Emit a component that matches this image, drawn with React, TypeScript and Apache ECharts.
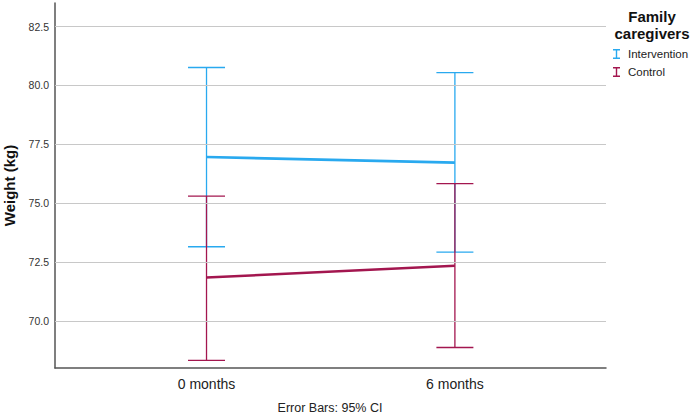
import React, { useEffect, useRef } from "react";
import * as echarts from "echarts";

const timeMonths = [0, 6];
const timeLabels = ["0 months", "6 months"];
const yTicks = [70, 72.5, 75, 77.5, 80, 82.5];

const interventionMean = [76.96, 76.72];
const interventionLower = [73.15, 72.92];
const interventionUpper = [80.76, 80.54];

const controlMean = [71.84, 72.34];
const controlLower = [68.32, 68.87];
const controlUpper = [75.3, 75.83];

const BLUE = "#29A9EF";
const MAROON = "#A3164F";
const FONT = "'Liberation Sans', Arial, sans-serif";
const I_ICON = "path://M0,0h7v1.4h-2.8v7.2h2.8v1.4h-7v-1.4h2.8v-7.2h-2.8z";

function errorSeries(name: string, lower: number[], upper: number[], color: string, z: number) {
  return {
    type: "custom",
    name,
    silent: true,
    z,
    data: timeMonths.map((m, i) => [m, lower[i], upper[i]]),
    encode: { x: 0, y: [1, 2] },
    renderItem: (params: any, api: any) => {
      const x = api.value(0);
      const lo = api.coord([x, api.value(1)]);
      const hi = api.coord([x, api.value(2)]);
      const hw = 18.5;
      const style = { stroke: color, lineWidth: 1.3, fill: null };
      return {
        type: "group",
        children: [
          { type: "line", shape: { x1: lo[0], y1: lo[1], x2: hi[0], y2: hi[1] }, style },
          { type: "line", shape: { x1: lo[0] - hw, y1: lo[1], x2: lo[0] + hw, y2: lo[1] }, style },
          { type: "line", shape: { x1: hi[0] - hw, y1: hi[1], x2: hi[0] + hw, y2: hi[1] }, style },
        ],
      };
    },
  };
}

export default function App() {
  const ref = useRef<HTMLDivElement>(null);
  useEffect(() => {
    if (!ref.current) return;
    const chart = echarts.init(ref.current, undefined, { renderer: "svg" });
    chart.setOption({
      animation: false,
      backgroundColor: "#ffffff",
      textStyle: { fontFamily: FONT },
      grid: { left: 55, right: 86, top: 3, bottom: 47, containLabel: false, outerBoundsMode: "none" },
      xAxis: {
        type: "value",
        min: -3.66,
        max: 9.65,
        axisLine: { show: true, onZero: false, lineStyle: { color: "#555555", width: 1.5 } },
        axisTick: { show: false },
        splitLine: { show: false },
        axisLabel: {
          customValues: timeMonths,
          margin: 9,
          fontSize: 14,
          color: "#222222",
          fontFamily: FONT,
          formatter: (v: number) => {
            const i = timeMonths.indexOf(v);
            return i >= 0 ? timeLabels[i] : "";
          },
        },
      },
      yAxis: {
        type: "value",
        min: 68,
        max: 83.5,
        name: "Weight (kg)",
        nameLocation: "middle",
        nameGap: 38,
        nameTextStyle: { fontSize: 15, fontWeight: "bold", color: "#111111", fontFamily: FONT },
        axisLine: { show: true, onZero: false, lineStyle: { color: "#555555", width: 1.5 } },
        axisTick: { show: false },
        splitLine: { show: false },
        axisLabel: {
          customValues: yTicks,
          margin: 6,
          fontSize: 10.5,
          color: "#333333",
          fontFamily: FONT,
          formatter: (v: number) => v.toFixed(1),
        },
      },
      legend: {
        orient: "vertical",
        left: 613,
        top: 48,
        padding: 0,
        itemWidth: 7,
        itemHeight: 10,
        itemGap: 6,
        textStyle: { fontSize: 11.5, color: "#222222", fontFamily: FONT, padding: [0, 0, 0, 3] },
        data: [
          { name: "Intervention", icon: I_ICON },
          { name: "Control", icon: I_ICON },
        ],
      },
      graphic: [
        {
          type: "text",
          x: 652,
          y: 8,
          style: {
            text: "Family\ncaregivers",
            fontSize: 15,
            fontWeight: "bold",
            fontFamily: FONT,
            fill: "#111111",
            align: "center",
            lineHeight: 17,
          },
        },
        {
          type: "text",
          x: 330,
          y: 408,
          style: {
            text: "Error Bars: 95% CI",
            fontSize: 12.5,
            fontFamily: FONT,
            fill: "#222222",
            align: "center",
            verticalAlign: "middle",
          },
        },
      ],
      series: [
        {
          type: "line",
          name: "gridlines",
          data: [],
          silent: true,
          z: 0,
          markLine: {
            silent: true,
            symbol: "none",
            label: { show: false },
            lineStyle: { color: "#C8C8C8", width: 1, type: "solid" },
            data: yTicks.map((v) => ({ yAxis: v })),
          },
        },
        errorSeries("Intervention CI", interventionLower, interventionUpper, BLUE, 2),
        {
          type: "line",
          name: "Intervention",
          data: timeMonths.map((m, i) => [m, interventionMean[i]]),
          showSymbol: false,
          symbol: "none",
          z: 3,
          lineStyle: { color: BLUE, width: 2.6 },
          itemStyle: { color: BLUE },
        },
        errorSeries("Control CI", controlLower, controlUpper, MAROON, 4),
        {
          type: "line",
          name: "Control",
          data: timeMonths.map((m, i) => [m, controlMean[i]]),
          showSymbol: false,
          symbol: "none",
          z: 5,
          lineStyle: { color: MAROON, width: 2.6 },
          itemStyle: { color: MAROON },
        },
      ],
    });
    return () => chart.dispose();
  }, []);
  return (
    <div
      ref={ref}
      style={{ position: "absolute", left: 0, top: 0, width: 692, height: 415 }}
    />
  );
}
